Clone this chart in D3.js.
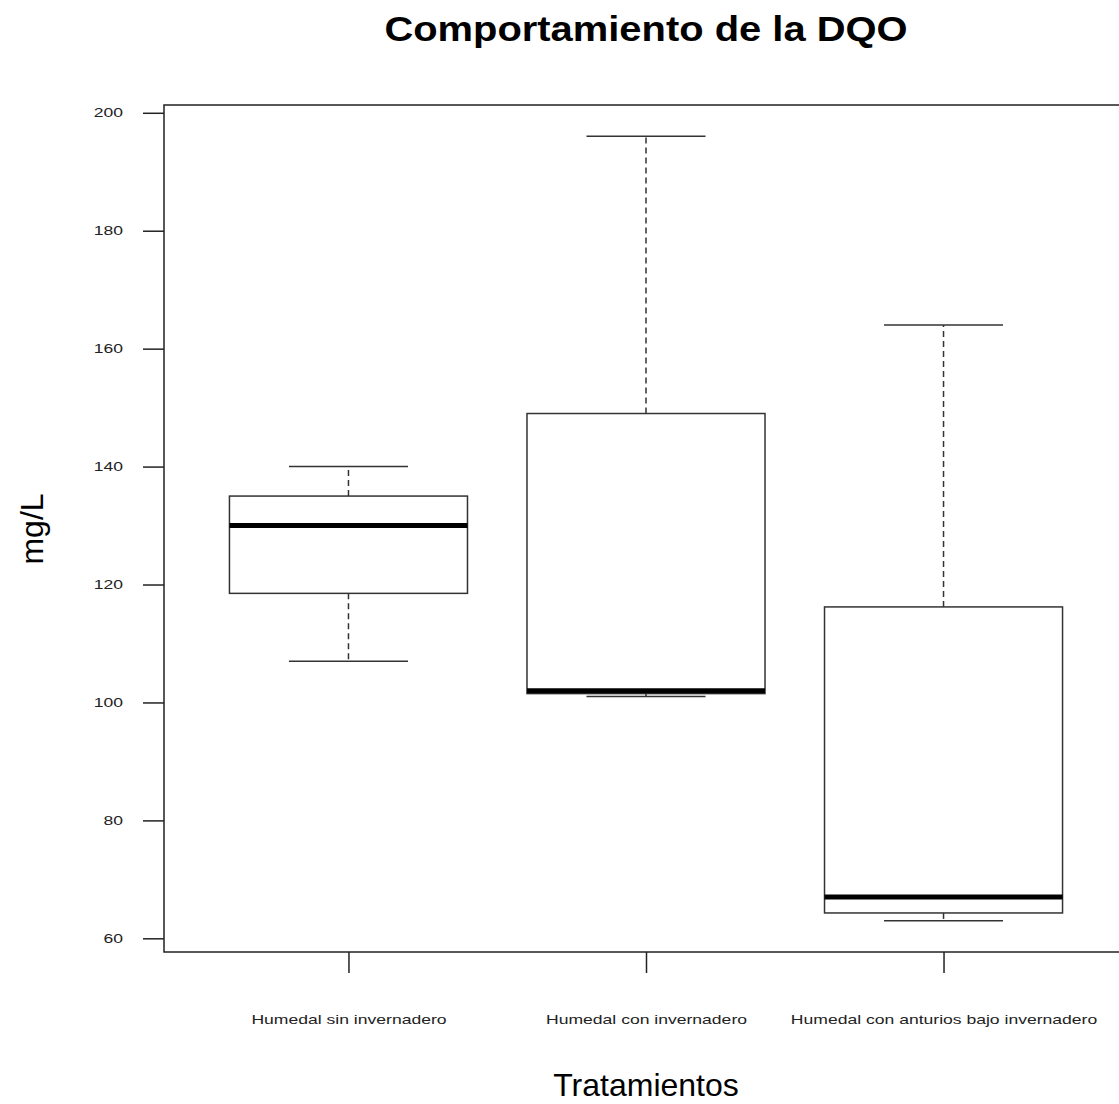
<!DOCTYPE html>
<html><head><meta charset="utf-8">
<script src="https://cdn.jsdelivr.net/npm/d3@7"></script>
<style>body{margin:0;background:#fff}svg{display:block}</style>
</head><body>
<svg id="c" width="1119" height="1104"></svg>
<script>
const categories = ["Humedal sin invernadero", "Humedal con invernadero", "Humedal con anturios bajo invernadero"];
const whiskerLow  = [107, 101, 63];
const q1          = [118.5, 101.5, 64.3];
const median      = [130, 102, 67];
const q3          = [135, 149, 116.2];
const whiskerHigh = [140, 196, 164];
const yTicks = [60, 80, 100, 120, 140, 160, 180, 200];

const svg = d3.select("#c");
const L = 164, R = 1128, T = 105, B = 952;
const x = d3.scaleLinear().domain([0.38, 3.62]).range([L, R]);
const y = d3.scaleLinear().domain([57.68, 201.32]).range([B, T]);
const font = "'Liberation Sans', Arial, sans-serif";

function widen(sel, f) {
  sel.each(function () {
    const w = this.getComputedTextLength();
    d3.select(this).attr("textLength", w * f).attr("lengthAdjust", "spacingAndGlyphs");
  });
}

const boxes = categories.map((c, i) => ({c, i: i + 1, lo: whiskerLow[i], q1: q1[i], med: median[i], q3: q3[i], hi: whiskerHigh[i]}));
const bw = 0.4, cw = 0.2;
const g = svg.append("g");

// whiskers
g.selectAll(".wu").data(boxes).join("line")
  .attr("x1", d => x(d.i)).attr("x2", d => x(d.i))
  .attr("y1", d => y(d.q3)).attr("y2", d => y(d.hi))
  .attr("stroke", "#333").attr("stroke-width", 1.5).attr("stroke-dasharray", "6,4");
g.selectAll(".wl").data(boxes).join("line")
  .attr("x1", d => x(d.i)).attr("x2", d => x(d.i))
  .attr("y1", d => y(d.q1)).attr("y2", d => y(d.lo))
  .attr("stroke", "#333").attr("stroke-width", 1.5).attr("stroke-dasharray", "6,4");
// caps
["hi", "lo"].forEach(k => {
  g.selectAll(".cap" + k).data(boxes).join("line")
    .attr("x1", d => x(d.i - cw)).attr("x2", d => x(d.i + cw))
    .attr("y1", d => y(d[k])).attr("y2", d => y(d[k]))
    .attr("stroke", "#333").attr("stroke-width", 1.5);
});
// boxes
g.selectAll(".box").data(boxes).join("rect")
  .attr("x", d => x(d.i - bw)).attr("width", d => x(d.i + bw) - x(d.i - bw))
  .attr("y", d => y(d.q3)).attr("height", d => y(d.q1) - y(d.q3))
  .attr("fill", "#fff").attr("stroke", "#333").attr("stroke-width", 1.5);
// medians
g.selectAll(".med").data(boxes).join("line")
  .attr("x1", d => x(d.i - bw)).attr("x2", d => x(d.i + bw))
  .attr("y1", d => y(d.med)).attr("y2", d => y(d.med))
  .attr("stroke", "#000").attr("stroke-width", 5);

// frame
svg.append("rect").attr("x", L).attr("y", T).attr("width", R - L).attr("height", B - T)
  .attr("fill", "none").attr("stroke", "#222").attr("stroke-width", 1.5);

// y axis
const ya = svg.append("g").attr("transform", `translate(${L},0)`)
  .call(d3.axisLeft(y).tickValues(yTicks).tickSize(21).tickPadding(20).tickSizeOuter(0));
ya.select(".domain").remove();
ya.selectAll(".tick line").attr("stroke", "#222").attr("stroke-width", 1.5);
ya.selectAll(".tick text").attr("font-family", font).attr("font-size", 12.5).attr("fill", "#222");
widen(ya.selectAll(".tick text"), 1.4);

// x axis
const xa = svg.append("g").attr("transform", `translate(0,${B})`)
  .call(d3.axisBottom(x).tickValues([1, 2, 3]).tickSize(21).tickPadding(42).tickFormat(d => categories[d - 1]));
xa.select(".domain").remove();
xa.selectAll(".tick line").attr("stroke", "#222").attr("stroke-width", 1.5);
xa.selectAll(".tick text").attr("font-family", font).attr("font-size", 13).attr("fill", "#222");
widen(xa.selectAll(".tick text"), 1.35);

// titles
const title = svg.append("text").attr("x", 646).attr("y", 41).attr("text-anchor", "middle")
  .attr("font-family", font).attr("font-weight", "bold").attr("font-size", 35)
  .text("Comportamiento de la DQO");
widen(title, 1.14);
svg.append("text").attr("x", 646).attr("y", 1096).attr("text-anchor", "middle")
  .attr("font-family", font).attr("font-size", 32).text("Tratamientos");
svg.append("text").attr("transform", "translate(43,529) rotate(-90)").attr("text-anchor", "middle")
  .attr("font-family", font).attr("font-size", 32).text("mg/L");
</script>
</body></html>
